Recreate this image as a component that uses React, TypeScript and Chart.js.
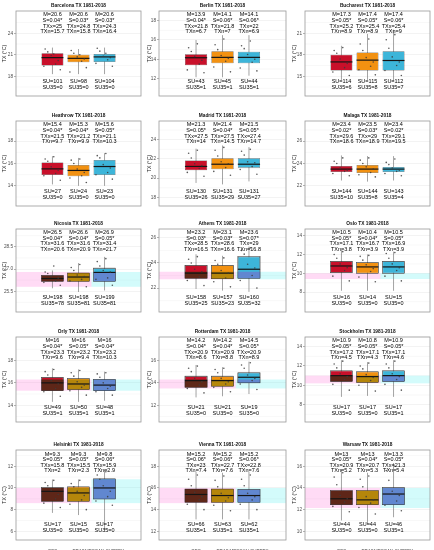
import { useEffect, useRef } from "react";
import { Chart, registerables } from "chart.js";
Chart.register(...registerables);
Chart.defaults.font.family = "'Liberation Sans', Arial, sans-serif";

const TITLES = [
  "Barcelona TX 1981-2018", "Berlin TX 1981-2018", "Bucharest TX 1981-2018",
  "Heathrow TX 1981-2018", "Madrid TX 1981-2018", "Malaga TX 1981-2018",
  "Nicosia TX 1981-2018", "Athens TX 1981-2018", "Oslo TX 1981-2018",
  "Orly TX 1981-2018", "Rotterdam TX 1981-2018", "Stockholm TX 1981-2018",
  "Helsinki TX 1981-2018", "Vienna TX 1981-2018", "Warsaw TX 1981-2018",
];
const SERIES = ["OBS", "ERA5", "MESCAN-SURFEX"];

const Y_RANGES = [
  [15.25, 27.1], [10.2, 19.0], [12.25, 24.1],
  [12.2, 19.8], [17.1, 25.95], [20.2, 27.8],
  [24.1, 29.7], [20.1, 26.7], [5.9, 14.7],
  [12.5, 20.1], [10.5, 18.1], [6.2, 15.0],
  [5.2, 13.5], [11.2, 19.5], [9.2, 17.5],
];
const Y_TICKS = [
  [18, 21, 24], [12, 14, 16, 18], [15, 18, 21],
  [14, 16, 18], [18, 20, 22, 24], [22, 24, 26],
  [25.5, 27, 28.5], [22, 24, 26], [8, 10, 12, 14],
  [14, 16, 18], [12, 14, 16], [8, 10, 12, 14],
  [6, 8, 10, 12], [12, 14, 16, 18], [10, 12, 14, 16],
];

// [lower whisker, q1, median, q3, upper whisker]
const OBS_BOX = [
  [18.3, 19.5, 20.6, 21.2, 22.0], [12.14, 13.38, 14.16, 14.53, 16.0], [14.5, 15.8, 17.0, 18.0, 19.25],
  [14.13, 14.98, 15.52, 16.08, 16.66], [19.5, 20.82, 21.22, 21.84, 23.07], [22.48, 23.25, 23.5, 23.78, 24.72],
  [25.7, 26.17, 26.36, 26.56, 26.9], [21.93, 22.78, 23.19, 23.81, 24.69], [8.15, 10.06, 10.78, 11.28, 12.47],
  [14.3, 15.3, 16.0, 16.5, 17.3], [12.7, 13.6, 14.2, 14.6, 15.6], [8.8, 10.4, 11.0, 11.5, 12.6],
  [7.7, 8.77, 9.69, 10.05, 10.78], [13.1, 14.68, 15.4, 15.9, 17.5], [11.0, 12.45, 13.0, 13.75, 15.7],
];
const ERA5_BOX = [
  [18.3, 19.96, 20.5, 21.0, 21.8], [12.14, 13.6, 14.2, 14.84, 16.5], [14.5, 15.8, 17.25, 18.3, 20.9],
  [14.0, 14.85, 15.38, 15.86, 16.5], [19.35, 20.92, 21.45, 22.06, 23.4], [22.38, 23.14, 23.5, 23.86, 24.66],
  [25.45, 26.17, 26.46, 26.73, 27.4], [21.8, 22.74, 23.19, 23.81, 24.57], [8.15, 10.0, 10.68, 11.16, 12.0],
  [14.3, 15.4, 15.9, 16.4, 17.2], [12.8, 13.7, 14.2, 14.6, 15.4], [8.9, 10.3, 10.9, 11.4, 12.4],
  [7.5, 8.77, 9.54, 10.1, 10.78], [13.1, 14.68, 15.3, 15.9, 17.4], [10.7, 12.45, 12.9, 13.75, 15.4],
];
const MESCAN_BOX = [
  [18.3, 20.0, 20.7, 21.1, 22.0], [12.3, 13.6, 14.2, 14.77, 16.5], [14.4, 15.8, 17.2, 18.5, 21.5],
  [14.0, 14.98, 15.73, 16.32, 16.93], [19.66, 21.08, 21.45, 22.06, 23.23], [22.48, 23.25, 23.5, 23.68, 24.66],
  [25.55, 26.17, 26.77, 27.06, 27.82], [21.7, 22.78, 23.5, 24.5, 25.3], [8.15, 10.0, 10.68, 11.28, 12.3],
  [14.4, 15.3, 15.8, 16.3, 17.0], [13.0, 14.0, 14.5, 14.9, 15.9], [8.8, 10.4, 11.0, 11.5, 12.6],
  [6.15, 8.98, 10.0, 10.84, 11.7], [13.1, 14.68, 15.3, 15.85, 17.5], [11.3, 12.45, 13.44, 14.05, 16.3],
];

const JITTER = [-0.28, 0.12, -0.05, 0.3, -0.18, 0.22, -0.33, 0.05];
const OBS_POINTS = [
  [21.8, 19.7, 20.9, 18.9, 21.4, 20.2, 19.4, 21.1], [15.2, 13.5, 14.3, 12.6, 14.8, 13.9, 12.9, 15.6], [18.6, 16.2, 17.4, 15.1, 18.2, 16.8, 15.6, 19.0],
  [16.4, 15.1, 15.7, 14.5, 16.2, 15.4, 14.9, 16.6], [22.6, 21.0, 21.5, 20.2, 22.1, 21.3, 20.6, 22.9], [24.2, 23.3, 23.6, 22.9, 24.0, 23.4, 23.1, 24.5],
  [26.8, 26.2, 26.5, 25.9, 26.7, 26.4, 26.1, 27.2], [24.3, 22.9, 23.5, 22.2, 24.0, 23.3, 22.6, 24.5], [12.0, 10.3, 11.0, 9.2, 11.6, 10.6, 9.7, 12.3],
  [17.0, 15.5, 16.2, 14.8, 16.7, 15.9, 15.2, 17.2], [15.3, 13.8, 14.4, 13.1, 15.0, 14.1, 13.5, 15.5], [12.2, 10.6, 11.2, 9.5, 11.8, 10.9, 10.1, 12.5],
  [10.5, 9.0, 9.8, 8.2, 10.2, 9.4, 8.6, 10.7], [16.8, 14.9, 15.6, 14.0, 16.2, 15.2, 14.5, 17.2], [15.0, 12.7, 13.3, 11.8, 14.3, 13.0, 12.3, 15.4],
];
const ERA5_POINTS = [
  [21.6, 20.1, 20.7, 19.2, 21.2, 20.4, 18.6, 21.0], [15.5, 13.8, 14.4, 12.7, 15.0, 14.1, 13.2, 16.1], [19.5, 16.4, 17.6, 15.2, 18.6, 17.0, 15.9, 20.2],
  [16.3, 14.9, 15.5, 14.3, 16.0, 15.2, 14.7, 16.4], [22.9, 21.1, 21.7, 20.3, 22.3, 21.5, 20.7, 23.2], [24.3, 23.2, 23.7, 22.8, 24.0, 23.5, 23.0, 24.5],
  [27.1, 26.3, 26.6, 25.8, 26.9, 26.5, 26.2, 27.3], [24.2, 22.8, 23.4, 22.1, 23.9, 23.2, 22.5, 24.4], [11.8, 10.2, 10.9, 9.1, 11.4, 10.5, 9.6, 11.9],
  [16.9, 15.6, 16.1, 14.9, 16.6, 15.8, 15.3, 17.1], [15.2, 13.9, 14.4, 13.2, 14.9, 14.1, 13.6, 15.3], [12.0, 10.5, 11.1, 9.4, 11.7, 10.8, 10.0, 12.3],
  [10.4, 8.9, 9.7, 8.0, 10.1, 9.3, 8.5, 10.7], [16.7, 14.8, 15.5, 13.9, 16.1, 15.1, 14.4, 17.1], [14.8, 12.6, 13.2, 11.6, 14.1, 12.9, 12.2, 15.1],
];
const MESCAN_POINTS = [
  [21.9, 20.3, 20.8, 19.4, 21.5, 20.6, 19.8, 21.2], [15.4, 13.7, 14.5, 12.8, 15.1, 14.0, 13.1, 15.9], [20.1, 16.5, 17.7, 15.1, 18.9, 17.0, 15.8, 20.8],
  [16.7, 15.2, 15.9, 14.6, 16.5, 15.6, 15.0, 16.9], [22.8, 21.2, 21.7, 20.4, 22.4, 21.6, 20.9, 23.0], [24.1, 23.3, 23.6, 22.9, 23.9, 23.4, 23.1, 24.4],
  [27.5, 26.4, 26.9, 25.9, 27.2, 26.8, 26.3, 27.7], [25.0, 23.0, 23.9, 22.0, 24.7, 23.6, 22.6, 25.2], [12.1, 10.3, 11.0, 9.2, 11.6, 10.6, 9.7, 12.2],
  [16.8, 15.5, 16.0, 14.9, 16.5, 15.7, 15.2, 16.9], [15.6, 14.2, 14.7, 13.4, 15.3, 14.4, 13.9, 15.8], [12.2, 10.6, 11.2, 9.5, 11.8, 10.9, 10.1, 12.5],
  [11.2, 9.2, 10.2, 8.4, 10.8, 9.7, 8.8, 11.5], [16.8, 14.9, 15.5, 14.0, 16.2, 15.2, 14.5, 17.2], [15.6, 12.8, 13.7, 11.9, 14.7, 13.3, 12.4, 16.0],
];

// [M, S, TXx, TXn, SU, SU35]
const OBS_STATS = [
  [20.6, "0.04*", 25, 15.7, 101, 0], [13.9, "0.04*", 21.8, 6.7, 43, 1], [17.3, "0.05*", 25.2, 8.9, 114, 6],
  [15.4, "0.04*", 21.5, 9.7, 27, 0], [21.3, "0.05*", 27.5, 14, 130, 26], [23.4, "0.02*", 29.6, 18.6, 144, 10],
  [26.5, "0.04*", 31.6, 20.6, 198, 78], [23.2, "0.03*", 28.5, 16.5, 158, 25], [10.5, "0.05*", 17.1, 3.8, 16, 0],
  [16, "0.04*", 23.3, 9.6, 49, 1], [14.2, "0.04*", 20.9, 8.6, 21, 0], [10.9, "0.05*", 17.2, 4.5, 17, 0],
  [9.3, "0.05*", 15.8, 2, 17, 0], [15.2, "0.06*", 23, 7.4, 66, 1], [13, "0.05*", 20.9, 5.2, 44, 0],
];
const ERA5_STATS = [
  [20.6, "0.03*", 24.8, 15.8, 98, 0], [14.1, "0.06*", 21.8, 7, 45, 1], [17.4, "0.05*", 25.4, 8.9, 115, 8],
  [15.3, "0.04*", 21.2, 9.9, 24, 0], [21.4, "0.04*", 27.5, 14.5, 131, 29], [23.5, "0.03*", 29, 18.9, 144, 8],
  [26.6, "0.04*", 31.6, 20.9, 198, 81], [23.1, "0.03*", 28.6, 16.6, 157, 23], [10.4, "0.04*", 16.7, 3.9, 14, 0],
  [16, "0.05*", 23.2, 9.4, 50, 1], [14.2, "0.04*", 20.9, 8.8, 21, 0], [10.8, "0.05*", 17.1, 4.3, 17, 0],
  [9.3, "0.05*", 15.5, 2.3, 15, 0], [15.2, "0.06*", 22.7, 7.6, 63, 1], [13, "0.04*", 20.7, 5.3, 44, 0],
];
const MESCAN_STATS = [
  [20.6, "0.03*", 24.3, 16.4, 104, 0], [14.1, "0.06*", 22, 6.9, 44, 1], [17.4, "0.06*", 25.4, 9, 112, 7],
  [15.6, "0.05*", 21.1, 10.3, 23, 0], [21.5, "0.05*", 27.4, 14.7, 131, 27], [23.4, "0.02*", 29.1, 19.5, 143, 4],
  [26.9, "0.05*", 31.4, 21.7, 199, 81], [23.6, "0.07*", 29, 16.8, 160, 32], [10.5, "0.05*", 16.9, 3.9, 15, 0],
  [16, "0.04*", 23.2, 10.3, 48, 1], [14.5, "0.05*", 20.9, 8.9, 19, 0], [10.9, "0.05*", 17.1, 4.6, 17, 1],
  [9.8, "0.06*", 15.9, 2.9, 17, 0], [15.2, "0.06*", 22.8, 7.6, 62, 1], [13.3, "0.05*", 21.3, 5.4, 46, 1],
];

// [pink low, pink high, cyan low, cyan high]
const BANDS = [
  null, null, null,
  null, null, null,
  [25.8, 26.8, 25.8, 26.8], [22.7, 23.3, 22.7, 23.3], [9.4, 10.0, 9.4, 10.0],
  [15.3, 16.3, 15.3, 16.3], [13.5, 14.3, 13.5, 14.3], [10.2, 11.0, 10.2, 11.0],
  [8.6, 10.0, 8.6, 10.8], [14.6, 16.0, 14.6, 16.0], [12.15, 14.0, 12.15, 14.0],
];

const COLORS = ["#c8102a", "#f29111", "#3db5d9"];
const DARK = ["#5e2618", "#b5860b", "#6187d0"];
const PLOT_TOP = [11, 121, 229, 337, 450];
const PLOT_BOTTOM = [106, 216, 322, 432, 540];
const COL_X = [0, 145, 290];
const COL_W = [145, 145, 144];
const LEFT_W = [16, 14, 15];
const RIGHT_PAD = [2, 2, 1];

function Panel({ idx }: { idx: number }) {
  const ref = useRef<HTMLCanvasElement | null>(null);
  const r = Math.floor(idx / 3);
  const c = idx % 3;
  const top = PLOT_TOP[r] - 11;
  const height = r === 4 ? 550 - top : PLOT_BOTTOM[r] - top + 1;
  const width = COL_W[c];

  useEffect(() => {
    const boxes = [OBS_BOX[idx], ERA5_BOX[idx], MESCAN_BOX[idx]];
    const pts = [OBS_POINTS[idx], ERA5_POINTS[idx], MESCAN_POINTS[idx]];
    const stats = [OBS_STATS[idx], ERA5_STATS[idx], MESCAN_STATS[idx]];
    const band = BANDS[idx];
    const ticks = Y_TICKS[idx];
    const dec = ticks.some((v) => !Number.isInteger(v));
    const scatter: { x: number; y: number }[] = [];
    pts.forEach((arr, s) => arr.forEach((y, j) => scatter.push({ x: s + 1 + JITTER[j], y })));

    const extras = {
      id: "extras",
      beforeDatasetsDraw(chart: any) {
        const { ctx, chartArea: a, scales } = chart;
        const x = scales.x, y = scales.y;
        ctx.save();
        const step = ticks[1] - ticks[0];
        ctx.strokeStyle = "#f1f1f1";
        ctx.lineWidth = 0.5;
        for (let v = ticks[0] - step * 1.5; v <= y.max; v += step) {
          if (v < y.min) continue;
          const py = y.getPixelForValue(v);
          ctx.beginPath();
          ctx.moveTo(a.left, py);
          ctx.lineTo(a.right, py);
          ctx.stroke();
        }
        if (band) {
          const xm = x.getPixelForValue(2.5);
          ctx.fillStyle = "rgba(255,110,215,0.25)";
          const p1 = y.getPixelForValue(band[1]), p0 = y.getPixelForValue(band[0]);
          ctx.fillRect(a.left, p1, xm - a.left, p0 - p1);
          ctx.fillStyle = "rgba(80,240,240,0.25)";
          const c1 = y.getPixelForValue(band[3]), c0 = y.getPixelForValue(band[2]);
          ctx.fillRect(xm, c1, a.right - xm, c0 - c1);
        }
        ctx.strokeStyle = "#666";
        ctx.lineWidth = 0.6;
        boxes.forEach((b, s) => {
          const px = x.getPixelForValue(s + 1);
          ctx.beginPath();
          ctx.moveTo(px, y.getPixelForValue(b[0]));
          ctx.lineTo(px, y.getPixelForValue(b[4]));
          ctx.stroke();
        });
        ctx.restore();
      },
      afterDatasetDraw(chart: any, args: any) {
        if (args.index !== 0) return;
        const { ctx, scales } = chart;
        const y = scales.y;
        ctx.save();
        args.meta.data.forEach((el: any, s: number) => {
          const p = el.getProps(["x", "y", "base", "width"], true);
          const left = p.x - p.width / 2;
          const bt = Math.min(p.y, p.base), bb = Math.max(p.y, p.base);
          if (band) {
            const hi = y.getPixelForValue(s < 2 ? band[1] : band[3]);
            const lo = y.getPixelForValue(s < 2 ? band[0] : band[2]);
            const t = Math.max(bt, hi), btm = Math.min(bb, lo);
            if (btm > t) {
              ctx.fillStyle = DARK[s];
              ctx.fillRect(left, t, p.width, btm - t);
            }
            ctx.strokeStyle = "#2b2b2b";
            ctx.lineWidth = 0.5;
            ctx.strokeRect(left, bt, p.width, bb - bt);
          }
          ctx.strokeStyle = "#151515";
          ctx.lineWidth = 1.2;
          const my = y.getPixelForValue(boxes[s][2]);
          ctx.beginPath();
          ctx.moveTo(left, my);
          ctx.lineTo(left + p.width, my);
          ctx.stroke();
        });
        ctx.restore();
      },
      afterDraw(chart: any) {
        const { ctx, chartArea: a, scales } = chart;
        const x = scales.x;
        const h = a.bottom - a.top;
        ctx.save();
        ctx.strokeStyle = "#9a9a9a";
        ctx.lineWidth = 0.8;
        ctx.strokeRect(a.left, a.top, a.right - a.left, h);
        ctx.fillStyle = "#111";
        ctx.textAlign = "center";
        ctx.textBaseline = "middle";
        ctx.font = "bold 4.8px 'Liberation Sans', Arial, sans-serif";
        ctx.fillText(TITLES[idx], (a.left + a.right) / 2, a.top - 5);
        ctx.font = "5.5px 'Liberation Sans', Arial, sans-serif";
        ctx.fillStyle = "#000";
        stats.forEach((st, s) => {
          const px = x.getPixelForValue(s + 1);
          const lines = [`M=${st[0]}`, `S=${st[1]}`, `TXx=${st[2]}`, `TXn=${st[3]}`];
          lines.forEach((t, i) => ctx.fillText(t, px, a.top + h * 0.045 + i * 5.6));
          ctx.fillText(`SU=${st[4]}`, px, a.top + h * 0.83);
          ctx.fillText(`SU35=${st[5]}`, px, a.top + h * 0.83 + 6);
        });
        ctx.restore();
      },
    };

    const chart = new Chart(ref.current as HTMLCanvasElement, {
      type: "bar",
      data: {
        datasets: [
          {
            type: "bar",
            data: boxes.map((b, s) => ({ x: s + 1, y: [b[1], b[3]] })) as any,
            backgroundColor: COLORS,
            borderColor: "#2b2b2b",
            borderWidth: 0.5,
            borderSkipped: false,
            barPercentage: 0.84,
            categoryPercentage: 1,
            order: 2,
          } as any,
          {
            type: "scatter",
            data: scatter,
            pointRadius: 0.8,
            pointBackgroundColor: "rgba(60,60,60,0.85)",
            pointBorderWidth: 0,
            order: 1,
          } as any,
        ],
      },
      options: {
        animation: false,
        responsive: false,
        devicePixelRatio: 1,
        layout: { padding: { top: 11, right: RIGHT_PAD[c], bottom: r < 4 ? 1 : 0, left: 0 } },
        plugins: { legend: { display: false }, tooltip: { enabled: false }, title: { display: false } },
        scales: {
          x: {
            type: "linear",
            min: 0.4,
            max: 3.6,
            display: r === 4,
            afterBuildTicks: (s: any) => {
              s.ticks = [1, 2, 3].map((v) => ({ value: v }));
            },
            afterFit: (s: any) => {
              s.height = 10;
            },
            ticks: {
              callback: (v: any) => SERIES[Number(v) - 1],
              font: { size: 4.5 },
              color: "#4d4d4d",
              padding: 1,
              autoSkip: false,
              maxRotation: 0,
            },
            grid: { display: false },
            border: { display: false },
          },
          y: {
            min: Y_RANGES[idx][0],
            max: Y_RANGES[idx][1],
            afterBuildTicks: (s: any) => {
              s.ticks = ticks.map((v) => ({ value: v }));
            },
            afterFit: (s: any) => {
              s.width = LEFT_W[c];
            },
            ticks: {
              callback: (v: any) => (dec ? Number(v).toFixed(1) : String(v)),
              font: { size: 4.7 },
              color: "#4d4d4d",
              padding: 1,
            },
            grid: { color: "#e6e6e6", lineWidth: 0.5, tickLength: 2, tickColor: "#666" },
            border: { display: false },
            title: { display: true, text: "TX (°C)", font: { size: 5.2 }, color: "#1a1a1a", padding: { top: 1, bottom: 0 } },
          },
        },
      } as any,
      plugins: [extras],
    });
    return () => chart.destroy();
  }, [idx]);

  return (
    <canvas
      ref={ref}
      width={width}
      height={height}
      style={{ position: "absolute", left: COL_X[c], top, width, height }}
    />
  );
}

export default function App() {
  return (
    <div style={{ position: "fixed", left: 0, top: 0, width: 434, height: 550, background: "#fff", overflow: "hidden" }}>
      {TITLES.map((_, i) => (
        <Panel key={i} idx={i} />
      ))}
    </div>
  );
}
